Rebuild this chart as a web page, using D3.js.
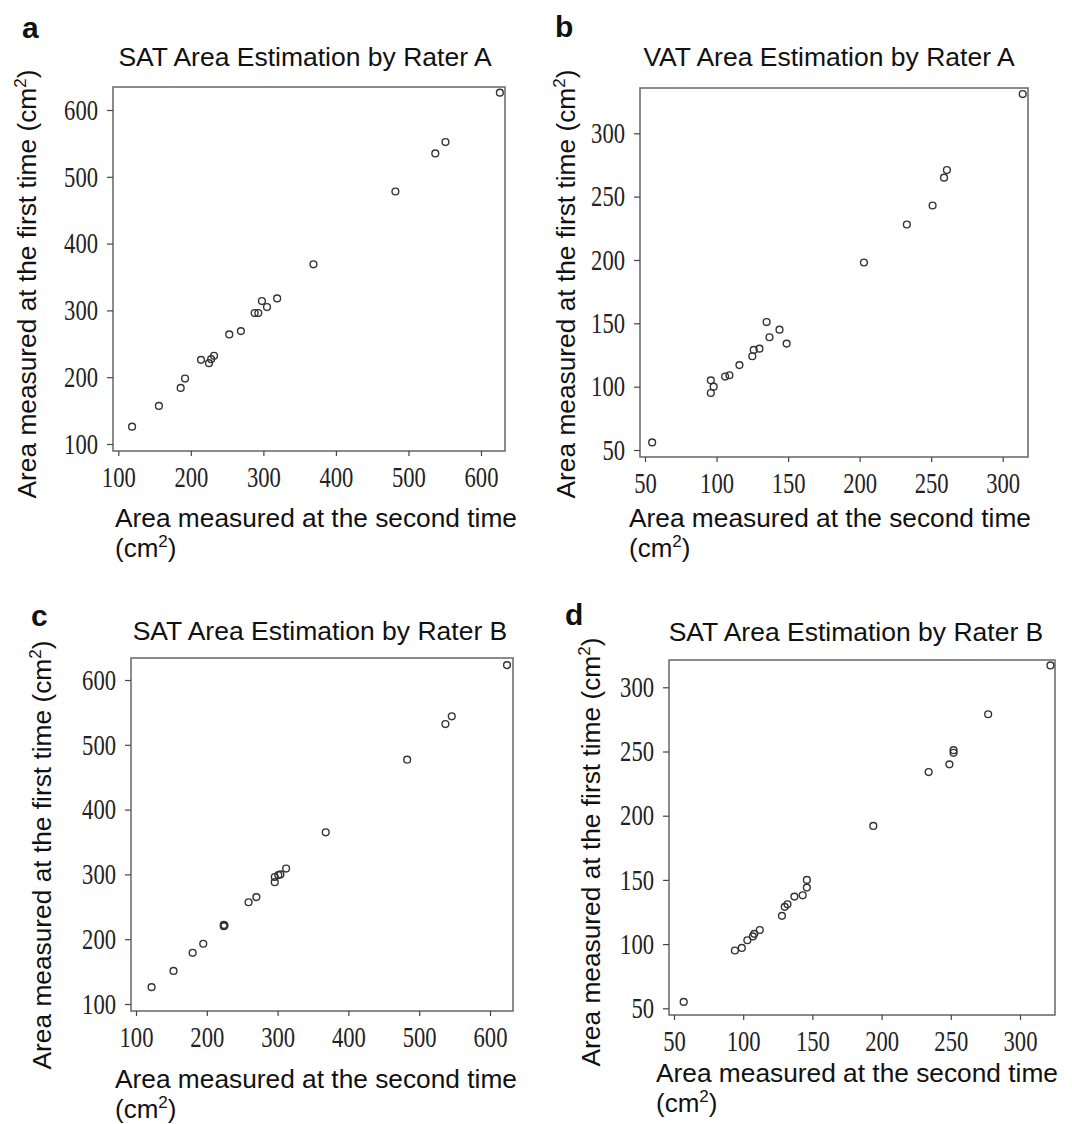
<!DOCTYPE html>
<html>
<head>
<meta charset="utf-8">
<script src="https://cdn.jsdelivr.net/npm/d3@7"></script>
<style>
  body { margin: 0; background: #fff; }
  .lbl { font-family: "Liberation Sans", Arial, sans-serif; fill: #111; }
  .tick text { font-family: "Liberation Serif", "Times New Roman", serif; fill: #222; }
</style>
</head>
<body>
<div id="chart"></div>
<script>
// values
var satAx = [119, 156, 186, 192, 214, 225, 228, 232, 253, 269, 288, 293, 298, 305, 319, 369, 482, 537, 551, 626];
var satAy = [126, 157, 184, 198, 226, 221, 227, 232, 264, 269, 296, 296, 314, 305, 318, 369, 478, 535, 552, 626];
var vatAx = [55, 96, 98, 96, 106, 109, 116, 125, 126, 130, 135, 137, 144, 149, 203, 233, 251, 259, 261, 314];
var vatAy = [56, 105, 100, 95, 108, 109, 117, 124, 129, 130, 151, 139, 145, 134, 198, 228, 243, 265, 271, 331];
var satBx = [122, 153, 180, 195, 224, 224, 225, 259, 270, 296, 296, 301, 304, 312, 368, 483, 537, 546, 624];
var satBy = [126, 151, 179, 193, 220, 222, 221, 257, 265, 288, 296, 299, 300, 309, 365, 477, 532, 544, 623];
var vatBx = [57, 94, 99, 103, 107, 108, 112, 128, 130, 132, 137, 143, 146, 146, 194, 234, 249, 252, 252, 277, 322];
var vatBy = [55, 95, 97, 103, 106, 108, 111, 122, 129, 131, 137, 138, 144, 150, 192, 234, 240, 249, 251, 279, 317];

var ticksSat = [100, 200, 300, 400, 500, 600];
var ticksVat = [50, 100, 150, 200, 250, 300];

var titles = ["SAT Area Estimation by Rater A", "VAT Area Estimation by Rater A",
              "SAT Area Estimation by Rater B", "SAT Area Estimation by Rater B"];
var letters = ["a", "b", "c", "d"];

var svg = d3.select("#chart").append("svg").attr("width", 1072).attr("height", 1124);

// layout of each panel: plot box, tick anchors, label spots
var panels = [
  {xs: satAx, ys: satAy, ticks: ticksSat, dom: [100, 600], xr: [118.3, 481], yr: [444, 110],
   box: [113, 87, 505, 451], letter: [22, 38], title: [305, 66], ylab: [36, 284], xlab: [115, 527]},
  {xs: vatAx, ys: vatAy, ticks: ticksVat, dom: [50, 300], xr: [645, 1002.7], yr: [450, 133.3],
   box: [640, 88, 1028, 457], letter: [555, 37], title: [829, 66], ylab: [575, 284], xlab: [629, 527]},
  {xs: satBx, ys: satBy, ticks: ticksSat, dom: [100, 600], xr: [136, 490], yr: [1004, 680],
   box: [131, 658, 513, 1011], letter: [31, 626], title: [320, 640], ylab: [51, 855], xlab: [115, 1088]},
  {xs: vatBx, ys: vatBy, ticks: ticksVat, dom: [50, 300], xr: [674, 1020], yr: [1008.3, 687.3],
   box: [669, 660, 1055, 1015], letter: [565, 625], title: [856, 641], ylab: [600, 852], xlab: [656, 1082]}
];

function squeeze(a) {
  a.select(".domain").remove();
  a.selectAll(".tick line").attr("stroke", "#444").attr("stroke-width", 1.2);
  a.selectAll(".tick text")
    .attr("font-size", 29)
    .attr("lengthAdjust", "spacingAndGlyphs")
    .attr("textLength", function() { return this.textContent.length * 11.3; });
}

panels.forEach(function(p, i) {
  var g = svg.append("g");
  var x = d3.scaleLinear().domain(p.dom).range(p.xr);
  var y = d3.scaleLinear().domain(p.dom).range(p.yr);
  var b = p.box;

  g.append("rect")
    .attr("x", b[0]).attr("y", b[1])
    .attr("width", b[2] - b[0]).attr("height", b[3] - b[1])
    .attr("fill", "none").attr("stroke", "#666").attr("stroke-width", 1.5);

  g.append("g").attr("transform", "translate(0," + b[3] + ")")
    .call(d3.axisBottom(x).tickValues(p.ticks).tickSize(5).tickPadding(10).tickFormat(d3.format("d")))
    .call(squeeze);
  g.append("g").attr("transform", "translate(" + b[0] + ",0)")
    .call(d3.axisLeft(y).tickValues(p.ticks).tickSize(6).tickPadding(9).tickFormat(d3.format("d")))
    .call(squeeze);

  g.selectAll("circle").data(p.xs).enter().append("circle")
    .attr("cx", function(d) { return x(d); })
    .attr("cy", function(d, j) { return y(p.ys[j]); })
    .attr("r", 3.4)
    .attr("fill", "none").attr("stroke", "#333").attr("stroke-width", 1.4);

  svg.append("text").attr("class", "lbl")
    .attr("x", p.letter[0]).attr("y", p.letter[1])
    .attr("font-size", 30).attr("font-weight", "bold").text(letters[i]);

  svg.append("text").attr("class", "lbl")
    .attr("x", p.title[0]).attr("y", p.title[1])
    .attr("text-anchor", "middle").attr("font-size", 26.5).text(titles[i]);

  svg.append("text").attr("class", "lbl")
    .attr("x", p.xlab[0]).attr("y", p.xlab[1])
    .attr("font-size", 26.3).text("Area measured at the second time");
  var cm = svg.append("text").attr("class", "lbl")
    .attr("x", p.xlab[0]).attr("y", p.xlab[1] + 30).attr("font-size", 26);
  cm.append("tspan").text("(cm");
  cm.append("tspan").attr("font-size", 17).attr("dy", -10).text("2");
  cm.append("tspan").attr("dy", 10).text(")");

  var yl = svg.append("text").attr("class", "lbl")
    .attr("transform", "translate(" + p.ylab[0] + "," + p.ylab[1] + ") rotate(-90)")
    .attr("text-anchor", "middle").attr("font-size", 26.3);
  yl.append("tspan").text("Area measured at the first time (cm");
  yl.append("tspan").attr("font-size", 17).attr("dy", -10).text("2");
  yl.append("tspan").attr("dy", 10).text(")");
});
</script>
</body>
</html>
